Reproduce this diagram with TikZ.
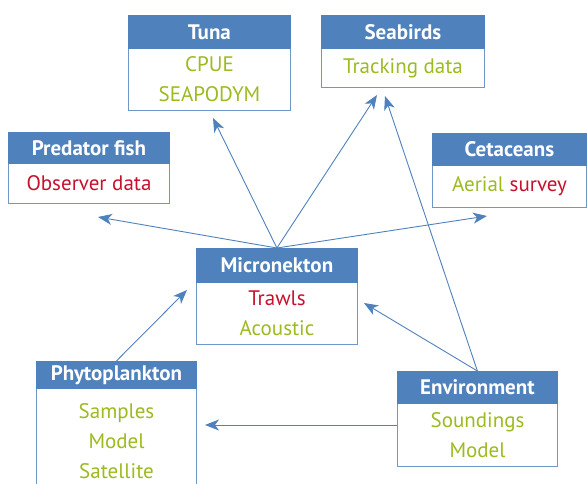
\documentclass[tikz,border=0pt]{standalone}
\usepackage{fontspec}
\setmainfont{PT Sans}
\usetikzlibrary{arrows.meta}
\definecolor{hblue}{HTML}{4F81BD}
\definecolor{lblue}{HTML}{6F97C8}
\definecolor{tgreen}{HTML}{9BBB1E}
\definecolor{tred}{HTML}{C8102E}
\begin{document}
\begin{tikzpicture}[x=1pt,y=-1pt,
  hdr/.style={fill=hblue, draw=hblue, text=white, font=\bfseries\fontsize{21}{24}\selectfont,
    anchor=north west, inner sep=0pt, line width=0.8pt},
  bodybox/.style={draw=lblue, fill=white, anchor=north west, inner sep=0pt, line width=1pt,
    align=center, font=\fontsize{21}{30}\selectfont},
  conn/.style={draw=hblue, line width=0.9pt, -{Stealth[length=14pt,width=11pt,inset=4pt]}},
  gr/.style={text=tgreen}, rd/.style={text=tred}]
\useasboundingbox (0,0) rectangle (587,484);
\clip (0,0) rectangle (587,484);
% Tuna
\node[bodybox, minimum width=162pt, minimum height=62pt] (tunaB) at (128,48) {\color{tgreen}CPUE\\\color{tgreen}SEAPODYM};
\node[hdr, minimum width=162pt, minimum height=33pt] (tunaH) at (128,15) {Tuna};
% Seabirds
\node[bodybox, minimum width=163pt, minimum height=39pt] (seaB) at (321,48) {\color{tgreen}Tracking data};
\node[hdr, minimum width=163pt, minimum height=33pt] (seaH) at (321,15) {Seabirds};
% Predator fish
\node[bodybox, minimum width=161pt, minimum height=40pt] (predB) at (8,163) {\color{tred}Observer data};
\node[hdr, minimum width=161pt, minimum height=31pt] (predH) at (8,132) {Predator fish};
% Cetaceans
\node[bodybox, minimum width=154pt, minimum height=42pt] (cetB) at (432,165) {\color{tgreen}Aerial \color{tred}survey};
\node[hdr, minimum width=154pt, minimum height=32pt] (cetH) at (432,133) {Cetaceans};
% Micronekton
\node[bodybox, minimum width=161pt, minimum height=62pt] (micB) at (196,282) {\color{tred}Trawls\\\color{tgreen}Acoustic};
\node[hdr, minimum width=161pt, minimum height=34pt] (micH) at (196,248) {Micronekton};
% Phytoplankton
\node[bodybox, minimum width=160pt, minimum height=106pt] (phyB) at (36,388) {\color{tgreen}Samples\\\color{tgreen}Model\\\color{tgreen}Satellite};
\node[hdr, minimum width=160pt, minimum height=27pt] (phyH) at (36,361) {Phytoplankton};
% Environment
\node[bodybox, minimum width=160pt, minimum height=63pt] (envB) at (397,403) {\color{tgreen}Soundings\\\color{tgreen}Model};
\node[hdr, minimum width=160pt, minimum height=32pt] (envH) at (397,371) {Environment};
% arrow ends
\coordinate (tTuna) at (213,118);
\coordinate (tSea1) at (377,95);
\coordinate (tSea2) at (385,96);
\coordinate (tPred) at (98,217);
\coordinate (tCet) at (487,216);
\coordinate (tMicL) at (187,290);
\coordinate (tMicR) at (364,303);
\coordinate (tPhy) at (205,425);
\coordinate (envL) at (397,425);
% connectors
\draw[conn] (micH.north) -- (tTuna);
\draw[conn] (micH.north) -- (tSea1);
\draw[conn] (micH.north) -- (tPred);
\draw[conn] (micH.north) -- (tCet);
\draw[conn] (phyH.north) -- (tMicL);
\draw[conn] (envH.north) -- (tMicR);
\draw[conn] (envH.north) -- (tSea2);
\draw[conn] (envL) -- (tPhy);
\end{tikzpicture}
\end{document}
